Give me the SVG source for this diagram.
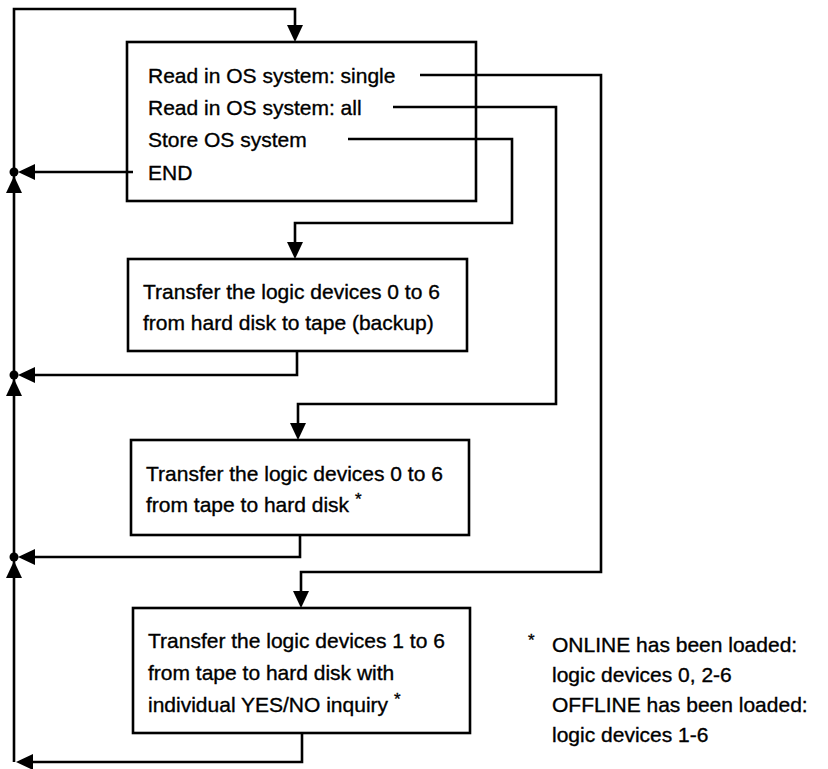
<svg xmlns="http://www.w3.org/2000/svg" width="828" height="769" viewBox="0 0 828 769">
  <style>
    .box { fill: #fff; stroke: #000; stroke-width: 2.6; }
    .wire { fill: none; stroke: #000; stroke-width: 2.6; stroke-linejoin: miter; }
    .head { fill: #000; stroke: none; }
    text { font-family: "Liberation Sans", Arial, Helvetica, sans-serif; font-size: 21px; fill: #000; stroke: #000; stroke-width: 0.35; }
    .star { font-size: 17px; }
  </style>
  <defs>
    <!-- arrowheads, tip at the origin -->
    <polygon id="down" class="head" points="0,0 -8,-17 8,-17"/>
    <polygon id="up" class="head" points="0,0 -8,17 8,17"/>
    <polygon id="left" class="head" points="0,0 17,-8 17,8"/>
  </defs>

  <g id="menu">
    <rect class="box" x="127" y="42" width="349" height="159"/>
    <text x="148" y="83">Read in OS system: single</text>
    <text x="148" y="115">Read in OS system: all</text>
    <text x="148" y="147">Store OS system</text>
    <text x="148" y="180">END</text>
  </g>

  <g id="backup">
    <rect class="box" x="128" y="259" width="339" height="92"/>
    <text x="143" y="299">Transfer the logic devices 0 to 6</text>
    <text x="143" y="330">from hard disk to tape (backup)</text>
  </g>

  <g id="restore-all">
    <rect class="box" x="131" y="440" width="338" height="95"/>
    <text x="146" y="481">Transfer the logic devices 0 to 6</text>
    <text x="146" y="512">from tape to hard disk <tspan class="star" dy="-7">*</tspan></text>
  </g>

  <g id="restore-select">
    <rect class="box" x="133" y="608" width="337" height="125"/>
    <text x="148" y="648">Transfer the logic devices 1 to 6</text>
    <text x="148" y="680">from tape to hard disk with</text>
    <text x="148" y="712">individual YES/NO inquiry <tspan class="star" dy="-7">*</tspan></text>
  </g>

  <g id="footnote">
    <text class="star" x="528" y="646">*</text>
    <text x="552" y="652">ONLINE has been loaded:</text>
    <text x="552" y="682">logic devices 0, 2-6</text>
    <text x="552" y="712">OFFLINE has been loaded:</text>
    <text x="552" y="742">logic devices 1-6</text>
  </g>

  <g id="connectors">
    <!-- return trunk on the left, looping back to the menu -->
    <path class="wire" d="M14,762 V9 H295 V30"/>
    <use href="#down" x="295" y="42"/>

    <!-- menu item: Store OS system -->
    <path class="wire" d="M348,139 H512 V223 H295 V245"/>
    <use href="#down" x="295" y="259"/>

    <!-- menu item: Read in OS system: all -->
    <path class="wire" d="M393,107 H556 V404 H298 V426"/>
    <use href="#down" x="298" y="440"/>

    <!-- menu item: Read in OS system: single -->
    <path class="wire" d="M420,75 H601 V572 H301 V594"/>
    <use href="#down" x="301" y="608"/>

    <!-- END back to trunk -->
    <path class="wire" d="M133,172 H30"/>
    <use href="#left" x="18" y="172"/>
    <circle cx="14" cy="172" r="4.5" fill="#000"/>
    <use href="#up" x="14" y="176"/>

    <!-- backup box back to trunk -->
    <path class="wire" d="M297,351 V375 H30"/>
    <use href="#left" x="18" y="375"/>
    <circle cx="14" cy="375" r="4.5" fill="#000"/>
    <use href="#up" x="14" y="379"/>

    <!-- restore box back to trunk -->
    <path class="wire" d="M300,535 V557 H30"/>
    <use href="#left" x="18" y="557"/>
    <circle cx="14" cy="557" r="4.5" fill="#000"/>
    <use href="#up" x="14" y="561"/>

    <!-- selective restore box back to trunk -->
    <path class="wire" d="M302,733 V762 H30"/>
    <use href="#left" x="16" y="762"/>
  </g>
</svg>
